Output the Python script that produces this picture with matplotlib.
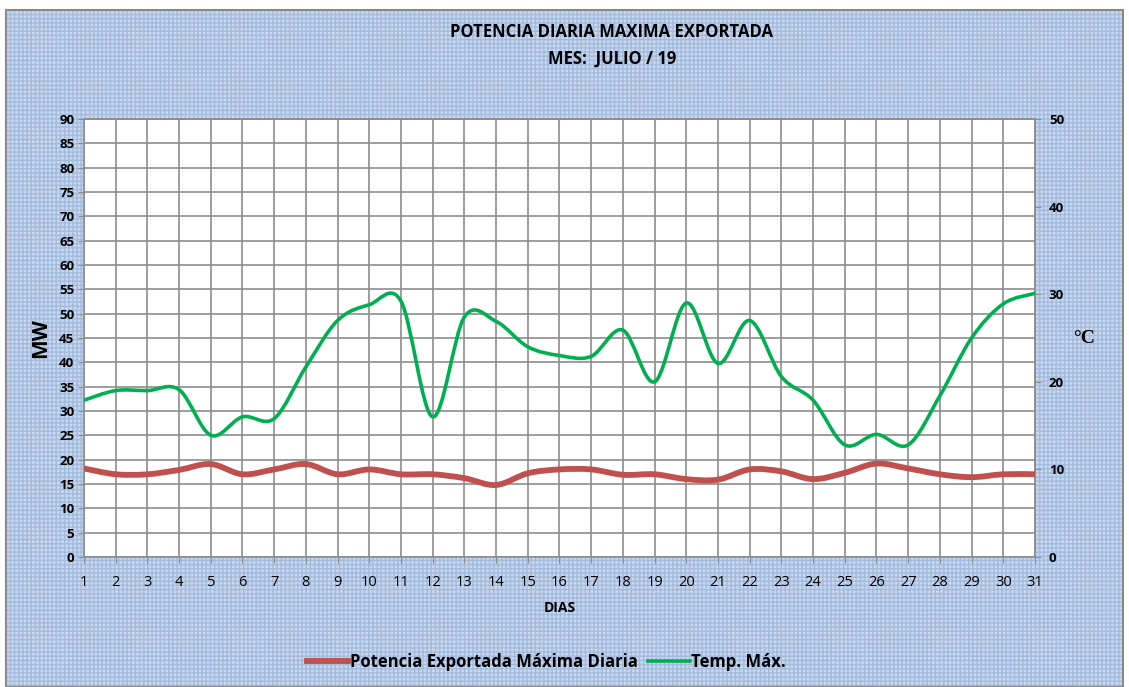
import matplotlib.pyplot as plt
from matplotlib.path import Path
from matplotlib.patches import PathPatch, Rectangle
from matplotlib.lines import Line2D

plt.rcParams['font.family'] = ['Open Sans', 'DejaVu Sans']

dias = list(range(1, 32))
potencia = [18.2, 17.0, 17.0, 17.9, 19.1, 17.0, 18.0, 19.1, 17.0, 18.0,
            17.0, 17.0, 16.2, 14.8, 17.2, 18.0, 18.0, 16.9, 17.0, 16.0,
            15.9, 18.0, 17.6, 16.0, 17.3, 19.2, 18.2, 17.0, 16.4, 17.0, 17.0]
temp = [17.9, 19.0, 19.0, 19.1, 13.9, 16.0, 15.8, 21.7, 27.0, 28.8,
        29.2, 16.0, 27.4, 26.9, 24.0, 23.0, 22.9, 25.9, 20.0, 29.0,
        22.1, 27.0, 20.6, 17.9, 12.8, 14.0, 12.8, 18.4, 25.0, 28.9, 30.1]

red = '#c0504d'
green = '#00b050'
gridc = '#8c8c8c'


def smooth_path(x, y):
    # Excel-style smoothed line: cubic Bezier segments through every point
    verts = [(x[0], y[0])]
    codes = [Path.MOVETO]
    n = len(x)
    for i in range(n - 1):
        x0, y0 = (x[i - 1], y[i - 1]) if i > 0 else (x[i], y[i])
        x3, y3 = (x[i + 2], y[i + 2]) if i + 2 < n else (x[i + 1], y[i + 1])
        c1 = (x[i] + (x[i + 1] - x0) / 6, y[i] + (y[i + 1] - y0) / 6)
        c2 = (x[i + 1] - (x3 - x[i]) / 6, y[i + 1] - (y3 - y[i]) / 6)
        verts += [c1, c2, (x[i + 1], y[i + 1])]
        codes += [Path.CURVE4] * 3
    return Path(verts, codes)


fig = plt.figure(figsize=(11.29, 6.87), dpi=100)
fig.patch.set_facecolor('white')
bg = Rectangle((0.005, 0.0), 0.99, 0.985, transform=fig.transFigure,
               facecolor='#c8d8ee', edgecolor='#a3bbdd', hatch='++++',
               linewidth=0, zorder=-10)
fig.patches.append(bg)
frame = Rectangle((0.005, 0.0), 0.99, 0.985, transform=fig.transFigure,
                  facecolor='none', edgecolor='#8a8a8a', linewidth=1.5, zorder=-9)
fig.patches.append(frame)

ax = fig.add_axes([0.0744, 0.1892, 0.8423, 0.6376])
ax.set_facecolor('white')
ax.set_xlim(1, 31)
ax.set_ylim(0, 90)
ax.set_xticks(dias)
ax.set_yticks(range(0, 91, 5))
ax.grid(True, color=gridc, linewidth=1.2)
ax.set_axisbelow(True)
for s in ax.spines.values():
    s.set_color(gridc)
    s.set_linewidth(1.2)
ax.tick_params(axis='y', direction='out', length=4, color=gridc, labelsize=9.5, pad=3)
ax.tick_params(axis='x', direction='out', length=4, color=gridc, labelsize=10.5, pad=9)
for lab in ax.get_yticklabels():
    lab.set_fontweight('bold')
ax.set_ylabel('MW', fontsize=15, fontweight='bold', labelpad=6)
ax.set_xlabel('DIAS', fontsize=10, fontweight='bold', labelpad=8)

ax2 = ax.twinx()
ax2.set_ylim(0, 50)
ax2.set_yticks(range(0, 51, 10))
ax2.tick_params(axis='y', direction='out', length=4, color=gridc, labelsize=9.5, pad=6)
for lab in ax2.get_yticklabels():
    lab.set_fontweight('bold')
for s in ax2.spines.values():
    s.set_visible(False)
ax2.text(1.052, 0.5, '°C', transform=ax2.transAxes, fontsize=14, fontweight='bold',
         family=['Liberation Serif', 'DejaVu Serif'], va='center', ha='center')

ax.add_patch(PathPatch(smooth_path(dias, potencia), facecolor='none', edgecolor=red,
                       linewidth=4.2, capstyle='round', joinstyle='round', zorder=3))
ax2.add_patch(PathPatch(smooth_path(dias, temp), facecolor='none', edgecolor=green,
                        linewidth=2.6, capstyle='round', joinstyle='round', zorder=3))

fig.text(0.542, 0.953, 'POTENCIA DIARIA MAXIMA EXPORTADA', ha='center', va='center',
         fontsize=12, fontweight='bold')
fig.text(0.542, 0.914, 'MES:  JULIO / 19', ha='center', va='center',
         fontsize=12, fontweight='bold')

handles = [Line2D([], [], color=red, linewidth=4.2),
           Line2D([], [], color=green, linewidth=2.6)]
fig.legend(handles, ['Potencia Exportada Máxima Diaria', 'Temp. Máx.'],
           loc='center', bbox_to_anchor=(0.484, 0.036), ncol=2, frameon=False,
           prop={'weight': 'bold', 'size': 12}, handlelength=2.5,
           handletextpad=0.1, columnspacing=0.6)

fig.savefig('out.png', dpi=100)
